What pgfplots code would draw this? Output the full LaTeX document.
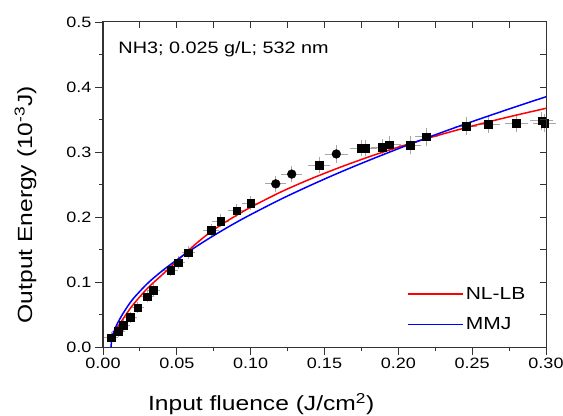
\documentclass[border=0pt]{standalone}
\usepackage{pgfplots}
\pgfplotsset{compat=1.18}
\usepackage{fontspec}
\setmainfont{Liberation Sans}[FakeStretch=1.2]

\pgfplotstableread{
x y ex ey
0.0054 0.0145 0.002 0.003
0.0104 0.0246 0.002 0.003
0.0137 0.0338 0.002 0.003
0.0183 0.0457 0.002 0.003
0.0235 0.0605 0.002 0.003
0.0300 0.0774 0.002 0.003
0.0341 0.0877 0.002 0.003
0.0459 0.1185 0.002 0.004
0.0510 0.1295 0.002 0.004
0.0578 0.1450 0.002 0.004
0.0731 0.1800 0.003 0.004
0.0797 0.1940 0.003 0.004
0.0905 0.2100 0.003 0.004
0.1000 0.2210 0.003 0.005
0.1463 0.2800 0.005 0.007
0.1750 0.3060 0.005 0.007
0.1780 0.3060 0.005 0.007
0.1890 0.3070 0.005 0.007
0.1940 0.3110 0.005 0.007
0.2080 0.3100 0.005 0.008
0.2190 0.3235 0.005 0.008
0.2460 0.3400 0.005 0.008
0.2610 0.3430 0.005 0.008
0.2800 0.3440 0.005 0.008
0.2970 0.3480 0.005 0.008
0.2990 0.3440 0.005 0.008
}\dataSq

\pgfplotstableread{
x y ex ey
0.1170 0.2510 0.004 0.006
0.1278 0.2660 0.004 0.006
0.1580 0.2970 0.005 0.007
}\dataCi

\pgfplotstableread{
x y
0.0054 0.0160
0.0093 0.0290
0.0138 0.0440
0.0200 0.0640
0.0300 0.0900
0.0400 0.1110
0.0500 0.1320
0.0600 0.1530
0.0700 0.1720
0.0800 0.1880
0.0900 0.2020
0.1000 0.2150
0.1200 0.2380
0.1400 0.2580
0.1600 0.2760
0.1800 0.2925
0.2000 0.3075
0.2200 0.3212
0.2400 0.3339
0.2600 0.3458
0.2800 0.3568
0.3000 0.3672
}\redfit

\pgfplotstableread{
x y
0.0054 0.0000
0.0060 0.0120
0.0070 0.0207
0.0093 0.0342
0.0138 0.0525
0.0200 0.0730
0.0300 0.0975
0.0400 0.1170
0.0500 0.1340
0.0600 0.1498
0.0700 0.1645
0.0800 0.1783
0.0900 0.1914
0.1000 0.2037
0.1200 0.2269
0.1400 0.2482
0.1600 0.2683
0.1800 0.2871
0.2000 0.3051
0.2200 0.3223
0.2400 0.3388
0.2600 0.3546
0.2800 0.3700
0.3000 0.3850
}\bluefit

\begin{document}
\begin{tikzpicture}
\path[use as bounding box] (-103bp,-69bp) rectangle (460bp,347bp);
\begin{axis}[
  at={(0,0)}, anchor=south west,
  scale only axis, width=443bp, height=325bp,
  xmin=0, xmax=0.30, ymin=0, ymax=0.5,
  xtick={0,0.05,0.1,0.15,0.2,0.25,0.3},
  ytick={0,0.1,0.2,0.3,0.4,0.5},
  minor xtick={0.025,0.075,0.125,0.175,0.225,0.275},
  minor ytick={0.05,0.15,0.25,0.35,0.45},
  xtick pos=left, ytick pos=left,
  tick align=outside,
  major tick length=8bp, minor tick length=4bp,
  axis line style={black!80, line width=1bp},
  every tick/.style={black!80, line width=0.9bp},
  /pgf/number format/assume math mode=true,
  xticklabel style={font=\fontsize{15bp}{18bp}\selectfont, /pgf/number format/.cd, fixed, fixed zerofill, precision=2},
  yticklabel style={font=\fontsize{15bp}{18bp}\selectfont, /pgf/number format/.cd, fixed, fixed zerofill, precision=1},
  scaled ticks=false,
  xlabel={Input fluence (J/cm\textsuperscript{2})},
  ylabel={Output Energy (10\textsuperscript{-3}J)},
  xlabel style={font=\fontsize{20.5bp}{24bp}\selectfont, at={(axis description cs:0.357,-0.196)}, anchor=base},
  ylabel style={font=\fontsize{20.5bp}{24bp}\selectfont, at={(axis description cs:-0.160,0.438)}, anchor=base},
  legend style={draw=none, fill=none, at={(axis description cs:0.965,0.035)}, anchor=south east,
    font=\fontsize{17.5bp}{20bp}\selectfont, row sep=13bp, cells={anchor=west}},
  legend image code/.code={\draw[#1, line width=1.6bp] (-4bp,0bp) -- (51bp,0bp);},
  clip=false,
]
\addplot[forget plot, only marks, mark=square*, mark size=3.8bp, black,
  error bars/.cd, x dir=both, x explicit, y dir=both, y explicit,
  error bar style={black!35, line width=0.7bp}, error mark options={black!35, line width=0.7bp}]
  table[x=x, y=y, x error=ex, y error=ey] {\dataSq};
\addplot[forget plot, only marks, mark=*, mark size=4.4bp, black,
  error bars/.cd, x dir=both, x explicit, y dir=both, y explicit,
  error bar style={black!35, line width=0.7bp}, error mark options={black!35, line width=0.7bp}]
  table[x=x, y=y, x error=ex, y error=ey] {\dataCi};
\addplot[red, line width=1.5bp, smooth, tension=0.5] table[x=x, y=y] {\redfit};
\addlegendentry{NL-LB}
\addplot[blue, line width=1.5bp, smooth, tension=0.5] table[x=x, y=y] {\bluefit};
\addlegendentry{MMJ}
\node[anchor=base west, font=\fontsize{16.5bp}{20bp}\selectfont] at (axis description cs:0.027,0.904) {NH3; 0.025 g/L; 532 nm};
\end{axis}
\begin{axis}[
  at={(0,0)}, anchor=south west,
  scale only axis, width=443bp, height=325bp,
  xmin=0, xmax=0.30, ymin=0, ymax=0.5,
  xtick={0.025,0.05,0.075,0.1,0.125,0.15,0.175,0.2,0.225,0.25,0.275},
  ytick={0.05,0.1,0.15,0.2,0.25,0.3,0.35,0.4,0.45},
  xticklabels={}, yticklabels={},
  xtick pos=right, ytick pos=right,
  tick align=inside, major tick length=6bp,
  axis line style={black!80, line width=1bp},
  every tick/.style={black!80, line width=0.9bp},
]
\end{axis}
\end{tikzpicture}
\end{document}
